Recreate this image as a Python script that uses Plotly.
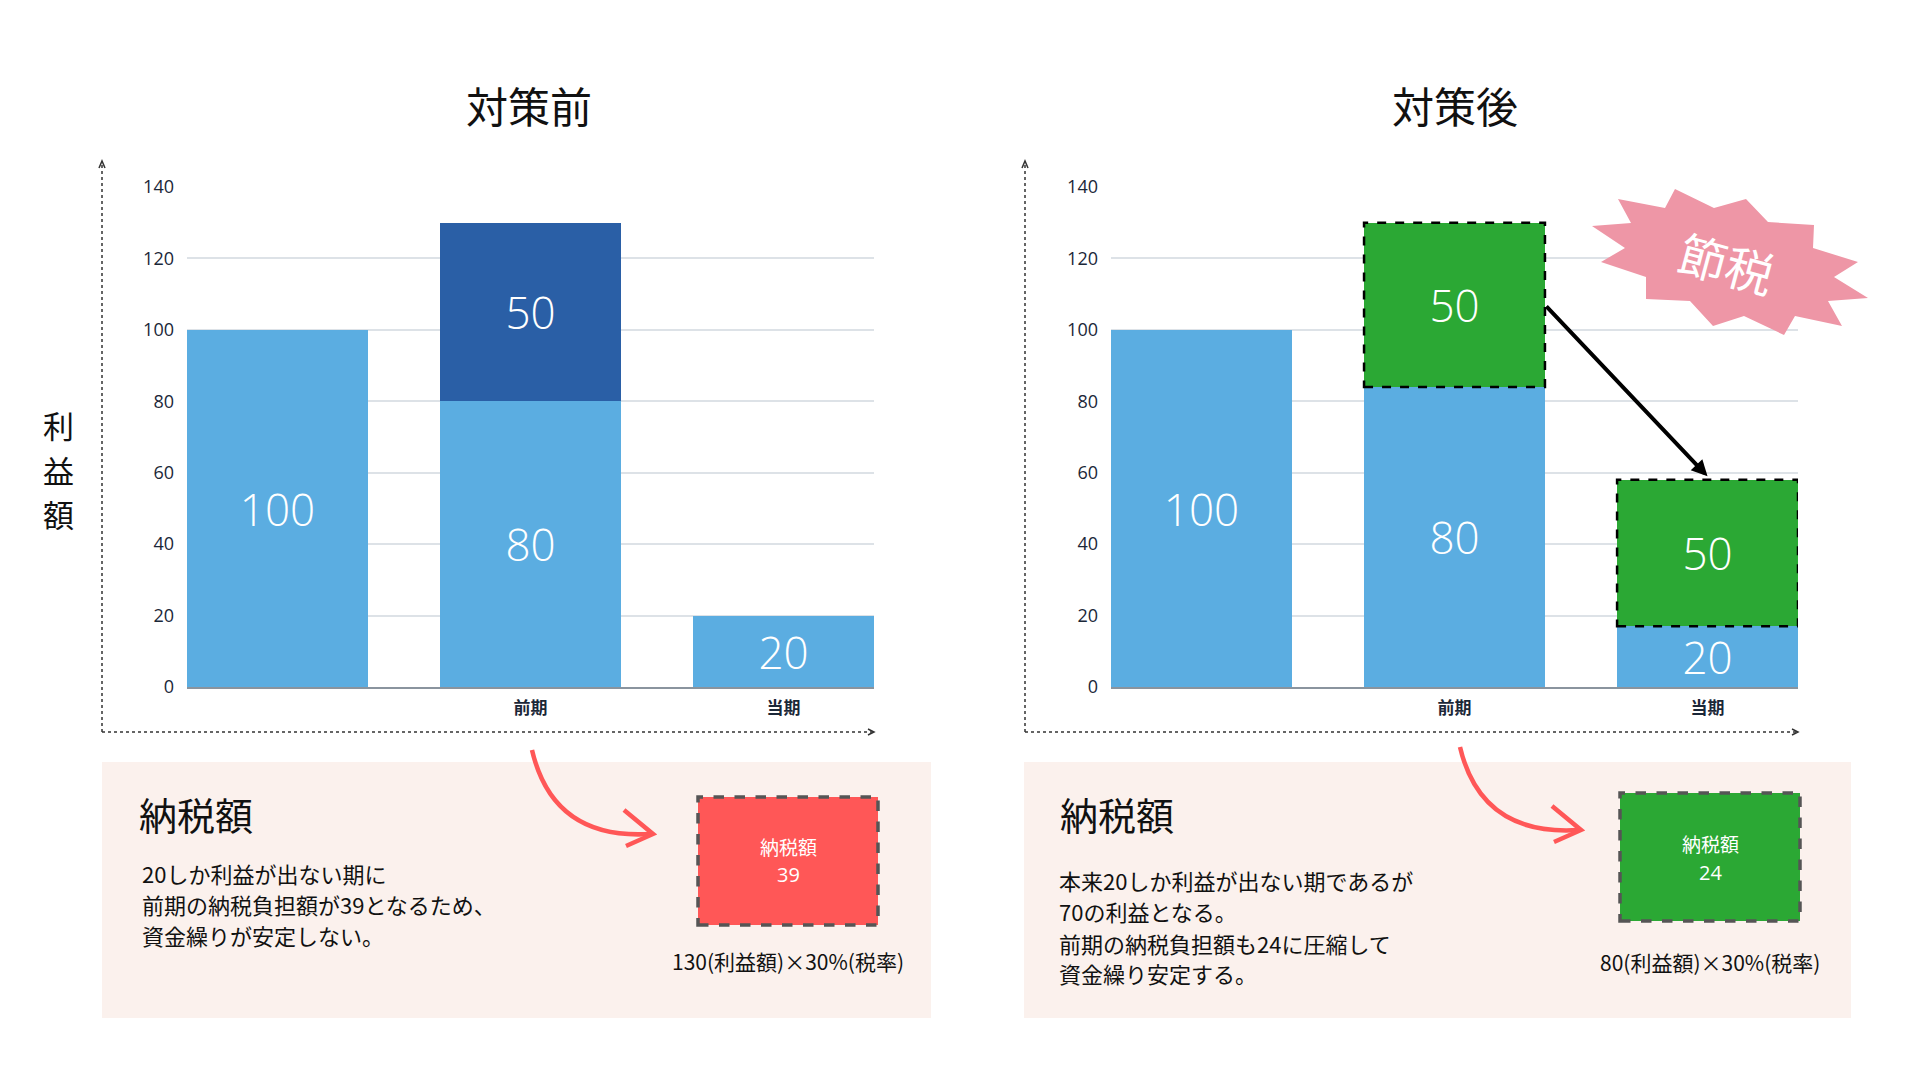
import plotly.graph_objects as go

W, H = 1920, 1080

# ---------------- data ----------------
categories = ["", "前期", "当期"]
x_pos = [0, 1, 2]
yticks = [0, 20, 40, 60, 80, 100, 120, 140]

before_base = [100, 80, 20]
before_top = [0, 50, 0]
before_base_labels = ["100", "80", "20"]
before_top_labels = ["", "50", ""]

# heights as drawn in the picture (labels show the nominal values)
after_base = [100, 84, 17]
after_top = [0, 46, 41]
after_base_labels = ["100", "80", "20"]
after_top_labels = ["", "50", "50"]

# ---------------- style ----------------
LIGHT_BLUE = "#5BADE1"
DARK_BLUE = "#2A5FA6"
GREEN = "#2BA834"
RED = "#FF5757"
PINK = "#EE96A6"
BOX_BG = "#FBF1ED"
TXT = "#1B2738"
JP = "Noto Sans CJK JP"
NUM = "Open Sans"
BW = 0.715


def px(x):
    return x / W


def py(y):
    return 1 - y / H


fig = go.Figure()


def add_bars(base, top, base_lbl, top_lbl, top_color, xa, ya):
    for vals, lbl, col in [(base, base_lbl, LIGHT_BLUE), (top, top_lbl, top_color)]:
        fig.add_trace(go.Bar(
            x=x_pos, y=vals, text=lbl, width=BW,
            marker=dict(color=col, line=dict(width=0)),
            textposition="inside", insidetextanchor="middle", constraintext="none",
            textangle=0,
            textfont=dict(family=NUM, size=44, color="white", weight=300),
            xaxis=xa, yaxis=ya, showlegend=False, hoverinfo="skip"))


add_bars(before_base, before_top, before_base_labels, before_top_labels, DARK_BLUE, "x", "y")
add_bars(after_base, after_top, after_base_labels, after_top_labels, GREEN, "x2", "y2")

ydom = [1 - 687 / H, 1 - 187 / H]
xa_common = dict(range=[-BW / 2, 2 + BW / 2], tickvals=x_pos,
                 ticktext=["<b>%s</b>" % c for c in categories],
                 tickfont=dict(family=JP, size=17, color=TXT),
                 showgrid=False, zeroline=False, showline=True,
                 linecolor="#8A949E", linewidth=1.5, ticks="",
                 ticklabelstandoff=5, fixedrange=True, automargin=False)
ya_common = dict(range=[0, 140], tickvals=yticks, domain=ydom,
                 tickfont=dict(family=NUM, size=18, color=TXT),
                 showgrid=True, gridcolor="#DDE2E7", gridwidth=1.5,
                 zeroline=False, showline=False, ticks="",
                 ticklabelstandoff=12, fixedrange=True, automargin=False)

fig.update_layout(
    width=W, height=H,
    margin=dict(l=0, r=0, t=0, b=0, pad=0, autoexpand=False),
    paper_bgcolor="white", plot_bgcolor="rgba(0,0,0,0)",
    barmode="stack", bargap=0,
    xaxis=dict(domain=[px(187), px(874)], anchor="y", **xa_common),
    yaxis=dict(anchor="x", **ya_common),
    xaxis2=dict(domain=[px(1111), px(1798)], anchor="y2", **xa_common),
    yaxis2=dict(anchor="x2", **ya_common),
)

shapes = []
annotations = []

# bottom panels
for x0, x1 in [(102, 931), (1024, 1851)]:
    shapes.append(dict(type="rect", xref="paper", yref="paper",
                       x0=px(x0), x1=px(x1), y0=py(1018), y1=py(762),
                       fillcolor=BOX_BG, line=dict(width=0), layer="below"))

# dotted axes with arrow heads
for ax_left, ax_right in [(102, 874), (1025, 1798)]:
    shapes.append(dict(type="line", xref="paper", yref="paper",
                       x0=px(ax_left), x1=px(ax_left), y0=py(732), y1=py(162),
                       line=dict(color="#333", width=1.5, dash="dot")))
    shapes.append(dict(type="line", xref="paper", yref="paper",
                       x0=px(ax_left), x1=px(ax_right), y0=py(732), y1=py(732),
                       line=dict(color="#333", width=1.5, dash="dot")))
    shapes.append(dict(type="path", xref="paper", yref="paper",
                       path="M %f,%f L %f,%f L %f,%f" % (px(ax_left - 3), py(168), px(ax_left), py(161), px(ax_left + 3), py(168)),
                       line=dict(color="#333", width=1.5)))
    shapes.append(dict(type="path", xref="paper", yref="paper",
                       path="M %f,%f L %f,%f L %f,%f" % (px(ax_right - 6), py(729), px(ax_right), py(732), px(ax_right - 6), py(735)),
                       line=dict(color="#333", width=1.5)))

# dashed outlines for the tax-saving segments (chart 2)
for i in range(len(x_pos)):
    if after_top[i] > 0:
        shapes.append(dict(type="rect", xref="x2", yref="y2",
                           x0=x_pos[i] - BW / 2, x1=x_pos[i] + BW / 2,
                           y0=after_base[i], y1=after_base[i] + after_top[i],
                           line=dict(color="black", width=2.5, dash="dash")))

# tax boxes
shapes.append(dict(type="rect", xref="paper", yref="paper",
                   x0=px(698), x1=px(878), y0=py(925), y1=py(797),
                   fillcolor=RED, line=dict(color="#555", width=3.5, dash="dash")))
shapes.append(dict(type="rect", xref="paper", yref="paper",
                   x0=px(1620), x1=px(1800), y0=py(921), y1=py(793),
                   fillcolor=GREEN, line=dict(color="#555", width=3.5, dash="dash")))

# red curved arrows
for (sx, sy), (cx, cy), (ex, ey) in [((532, 750), (553, 840), (650, 834)),
                                     ((1460, 747), (1481, 836), (1578, 830))]:
    shapes.append(dict(type="path", xref="paper", yref="paper",
                       path="M %f,%f Q %f,%f %f,%f" % (px(sx), py(sy), px(cx), py(cy), px(ex), py(ey)),
                       line=dict(color=RED, width=4.5)))
    shapes.append(dict(type="path", xref="paper", yref="paper",
                       path="M %f,%f L %f,%f L %f,%f" % (px(ex - 26), py(ey - 24), px(ex + 3), py(ey), px(ex - 24), py(ey + 12)),
                       line=dict(color=RED, width=4.5)))

# starburst
star = [(1618, 199), (1631, 223), (1592, 226), (1625, 248), (1601, 262), (1646, 277),
        (1646, 299), (1690, 301), (1713, 326), (1744, 316), (1784, 335), (1795, 316),
        (1842, 326), (1828, 301), (1868, 298), (1834, 277), (1858, 262), (1813, 248),
        (1814, 225), (1768, 222), (1746, 199), (1714, 208), (1675, 189), (1665, 208)]
path = "M " + " L ".join("%f,%f" % (px(a), py(b)) for a, b in star) + " Z"
shapes.append(dict(type="path", xref="paper", yref="paper", path=path,
                   fillcolor=PINK, line=dict(width=0)))


def txt(x, y, s, size, color=TXT, family=JP, xanchor="center", angle=0):
    annotations.append(dict(x=px(x), y=py(y), xref="paper", yref="paper",
                            text=s, showarrow=False, xanchor=xanchor, yanchor="middle",
                            textangle=angle,
                            font=dict(family=family, size=size, color=color)))


# titles
txt(529, 105, "対策前", 42, color="#111")
txt(1455, 105, "対策後", 42, color="#111")
# y-axis label (vertical, one character per line)
for ch, yy in zip("利益額", [424, 469, 514]):
    txt(58, yy, ch, 31, color="#111")

# starburst text
txt(1727, 262, "節税", 48, color="white", angle=15)

# left panel text
txt(137, 813, "納税額", 38, color="#111", xanchor="left")
for s, yy in zip(["20しか利益が出ない期に", "前期の納税負担額が39となるため、", "資金繰りが安定しない。"],
                 [873, 904, 935]):
    txt(140, yy, s, 22, color="#111", xanchor="left")
txt(788, 846, "納税額", 19, color="white")
txt(788, 874, "39", 20, color="white", family=NUM)
txt(788, 961, "130(利益額)×30%(税率)", 21, color="#111")

# right panel text
txt(1058, 813, "納税額", 38, color="#111", xanchor="left")
for s, yy in zip(["本来20しか利益が出ない期であるが", "70の利益となる。", "前期の納税負担額も24に圧縮して", "資金繰り安定する。"],
                 [880, 911, 943, 973]):
    txt(1057, yy, s, 22, color="#111", xanchor="left")
txt(1710, 843, "納税額", 19, color="white")
txt(1710, 872, "24", 20, color="white", family=NUM)
txt(1710, 962, "80(利益額)×30%(税率)", 21, color="#111")

# black arrow from the previous-period saving to the current period
annotations.append(dict(xref="x2", yref="y2", axref="x2", ayref="y2",
                        x=x_pos[2], y=after_base[2] + after_top[2] + 1,
                        ax=x_pos[1] + BW / 2, ay=107,
                        showarrow=True, arrowhead=2, arrowsize=0.8, arrowwidth=4,
                        arrowcolor="black", text=""))

fig.update_layout(shapes=shapes, annotations=annotations)
fig.write_html("out.html", config={"displayModeBar": False},
               post_script="document.body.style.margin='0';")
